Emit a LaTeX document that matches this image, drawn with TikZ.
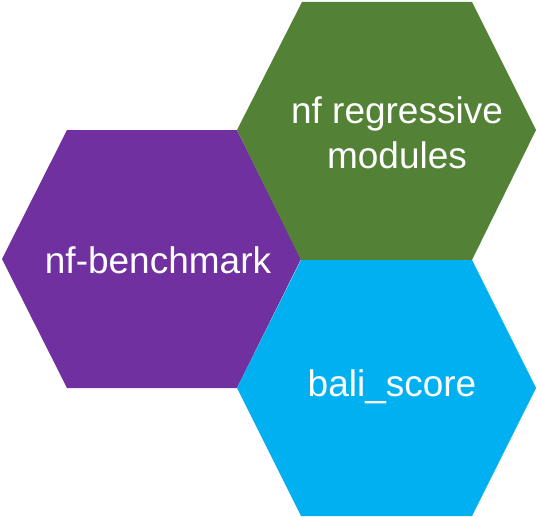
\documentclass[tikz,border=0pt]{standalone}
\usepackage{fontspec}
\setmainfont{Liberation Sans}
\definecolor{hexpurple}{HTML}{7030A0}
\definecolor{hexgreen}{HTML}{538135}
\definecolor{hexblue}{HTML}{00B0F0}
\begin{document}
\begin{tikzpicture}[x=1pt,y=-1pt,
  hexlabel/.style={text=white,font=\fontsize{37}{45}\selectfont,align=center,inner sep=0pt}]
\useasboundingbox (0,0) rectangle (537,516);
% purple
\fill[hexpurple] (2,259) -- (67,130) -- (237,130) -- (301,259) -- (237,388) -- (67,388) -- cycle;
% green
\fill[hexgreen] (237,130) -- (302,2) -- (472,2) -- (536,130) -- (472,260) -- (301,260) -- cycle;
% blue
\fill[hexblue] (237,388) -- (301,260) -- (472,260) -- (536,388) -- (472,516) -- (301,516) -- cycle;
\node[hexlabel] (bench) at (158,260) {nf-benchmark};
\node[hexlabel] (regr) at (397,133) {nf regressive\\modules};
\node[hexlabel] (bali) at (392,387) {bali\_score};
\end{tikzpicture}
\end{document}
